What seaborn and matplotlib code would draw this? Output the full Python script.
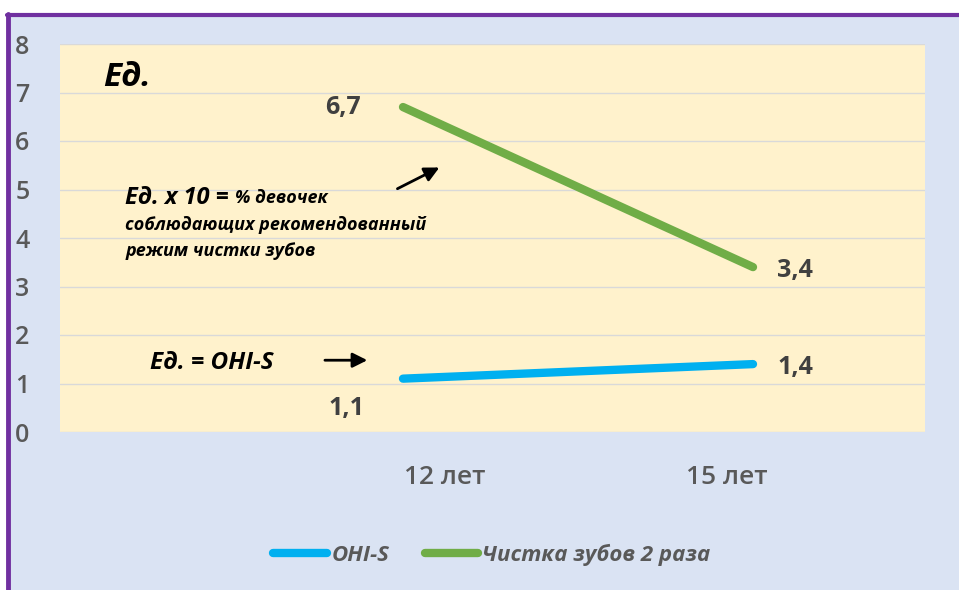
"""
OHI-S and tooth brushing chart (girls, 12 and 15 years)
"""

import matplotlib.pyplot as plt
import matplotlib.transforms as mtransforms
from matplotlib.lines import Line2D
from matplotlib.patches import Rectangle
import seaborn as sns
import pandas as pd

# data
ages = ['12 лет', '15 лет']
ohi_s = [1.1, 1.4]
brushing = [6.7, 3.4]
series_names = ['OHI-S', 'Чистка зубов 2 раза']
value_labels_ohi = ['1,1', '1,4']
value_labels_brush = ['6,7', '3,4']
y_ticks = [0, 1, 2, 3, 4, 5, 6, 7, 8]

sns.set_theme(style='white')
plt.rcParams['font.family'] = ['Open Sans', 'DejaVu Sans']

BLUE = '#00B0F0'
GREEN = '#70AD47'
GRAY = '#595959'
DARK = '#404040'

df = pd.DataFrame({
    'pos': [0, 1, 0, 1],
    'value': ohi_s + brushing,
    'series': [series_names[0]] * 2 + [series_names[1]] * 2,
})

W, H = 959, 590
fig = plt.figure(figsize=(W / 100, H / 100), dpi=100, facecolor='white')

# outer panel with purple frame (top and left)
fig.add_artist(Rectangle((10 / W, 0), 1, 1 - 17 / H, transform=fig.transFigure,
                         facecolor='#DAE3F3', edgecolor='none', zorder=0))
fig.add_artist(Line2D([7 / W, 1], [1 - 15 / H, 1 - 15 / H], transform=fig.transFigure,
                      color='#7030A0', linewidth=3, zorder=1))
fig.add_artist(Line2D([8 / W, 8 / W], [0, 1 - 14 / H], transform=fig.transFigure,
                      color='#7030A0', linewidth=3.5, zorder=1))

ax = fig.add_axes([60 / W, 1 - 432 / H, 865 / W, 388 / H])
ax.set_facecolor('#FFF2CC')

sns.lineplot(data=df, x='pos', y='value', hue='series', palette=[BLUE, GREEN],
             linewidth=6, ax=ax, legend=False, solid_capstyle='round')

ax.set_ylim(0, 8)
ax.set_xlim((60 - 403) / 350, (925 - 403) / 350)
ax.set_yticks(y_ticks)
ax.yaxis.grid(True, color='#D9D9D9', linewidth=1)
ax.set_axisbelow(True)
for s in ax.spines.values():
    s.set_visible(False)
ax.set_xlabel('')
ax.set_ylabel('')
ax.tick_params(axis='y', length=0, pad=22, labelsize=18, labelcolor=GRAY)
ax.tick_params(axis='x', length=0, pad=24, labelsize=19, labelcolor=GRAY)
ax.set_xticks([0, 1])
ax.set_xticklabels(ages, fontweight='semibold')
for lbl in ax.get_yticklabels():
    lbl.set_fontweight('semibold')
# category labels sit a bit off the points in the original
for lbl, dx in zip(ax.get_xticklabels(), [42, -26]):
    lbl.set_transform(lbl.get_transform() + mtransforms.ScaledTranslation(dx / 100, 0, fig.dpi_scale_trans))

# value labels
for i, (v, t) in enumerate(zip(brushing, value_labels_brush)):
    dx = -60 if i == 0 else 42
    ax.annotate(t, (i, v), xytext=(dx, -3 if i else 0), textcoords='offset pixels',
                ha='center', va='center', fontsize=18, fontweight='bold', color=DARK)
for i, (v, t) in enumerate(zip(ohi_s, value_labels_ohi)):
    dx, dy = (-56, -30) if i == 0 else (42, -3)
    ax.annotate(t, (i, v), xytext=(dx, dy), textcoords='offset pixels',
                ha='center', va='center', fontsize=18, fontweight='bold', color=DARK)

# notes
note = dict(fontweight='bold', fontstyle='italic', color='black')
ax.text(-0.857, 7.3, 'Ед.', fontsize=24, ha='left', va='center', **note)
t1 = ax.text(-0.794, 4.7, 'Ед. x 10 = ', fontsize=17, ha='left', va='baseline', **note)
ax.annotate('% девочек', xy=(1, 0), xycoords=t1, xytext=(0, 3), textcoords='offset pixels',
            fontsize=13, ha='left', va='bottom', **note)
ax.text(-0.794, 4.27, 'соблюдающих рекомендованный', fontsize=13, ha='left', va='center', **note)
ax.text(-0.794, 3.73, 'режим чистки зубов', fontsize=13, ha='left', va='center', **note)
ax.annotate('', xy=(0.111, 5.48), xytext=(-0.023, 4.99),
            arrowprops=dict(arrowstyle='-|>', color='black', lw=2, mutation_scale=22))
ax.text(-0.723, 1.42, 'Ед. = OHI-S', fontsize=17.5, ha='left', va='center', **note)
ax.annotate('', xy=(-0.094, 1.48), xytext=(-0.231, 1.48),
            arrowprops=dict(arrowstyle='-|>', color='black', lw=2, mutation_scale=22))

handles = [Line2D([], [], color=BLUE, linewidth=6, solid_capstyle='round'),
           Line2D([], [], color=GREEN, linewidth=6, solid_capstyle='round')]
leg = ax.legend(handles, series_names, loc='center', bbox_to_anchor=(492 / W, 1 - 555 / H),
                bbox_transform=fig.transFigure, ncol=2, frameon=False, handlelength=2.4,
                handletextpad=0.2, columnspacing=1.6, prop=dict(size=16, style='italic', weight='bold'))
for t in leg.get_texts():
    t.set_color(GRAY)

plt.savefig('out.png', dpi=100, facecolor=fig.get_facecolor())
plt.close()
